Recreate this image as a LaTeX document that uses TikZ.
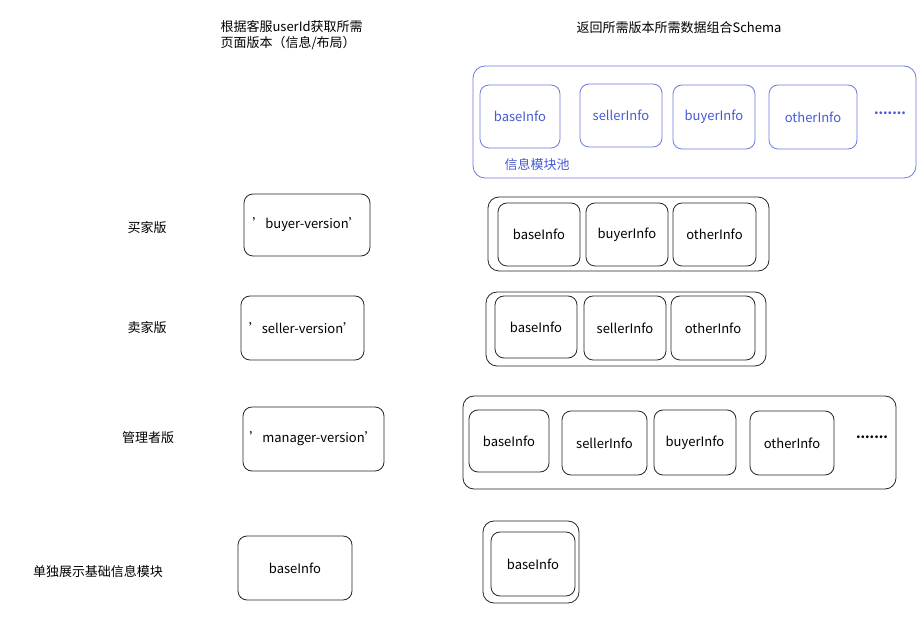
\documentclass[tikz,border=0pt]{standalone}
\usepackage{fontspec}
\setmainfont{Noto Sans CJK SC}
\usepackage{tikz}
\newcommand{\sq}{\char39\relax}
\definecolor{poolblue}{RGB}{70,90,210}

\begin{document}
\begin{tikzpicture}[x=1pt, y=-1pt, font=\fontsize{13}{16}\selectfont,
    box/.style={draw=black!85, rounded corners=9pt, line width=0.8pt, inner sep=0pt},
    bluebox/.style={draw=poolblue!80, text=poolblue, rounded corners=9pt, line width=0.8pt, inner sep=0pt},
    group/.style={draw=black!85, rounded corners=11pt, line width=0.8pt, inner sep=0pt}]
				% Canvas
				\useasboundingbox (0,0) rectangle (924,617);
				
				% Column headings
				\node[anchor=west, align=left] (headL) at (217,35) {根据客服userId获取所需\\页面版本（信息/布局）};
				\node[anchor=west] (headR) at (573,28) {返回所需版本所需数据组合Schema};
				
				% Module pool
				\node[bluebox, minimum width=443pt, minimum height=112pt, rounded corners=12pt] (pool) at (694.5,122) {};
				\node[bluebox, minimum width=80pt, minimum height=63pt] (pBase) at (520,116.5) {baseInfo};
				\node[bluebox, minimum width=82pt, minimum height=63pt] (pSeller) at (621,115.5) {sellerInfo};
				\node[bluebox, minimum width=82pt, minimum height=64pt] (pBuyer) at (714,117) {buyerInfo};
				\node[bluebox, minimum width=88pt, minimum height=64pt] (pOther) at (813,117) {otherInfo};
				\node[text=poolblue] (pDots) at (890,113) {\textbf{.......}};
				\node[text=poolblue] (pLabel) at (537,165) {信息模块池};
				
				% Row labels
				\node (lBuyer) at (147,228) {买家版};
				\node (lSeller) at (147,328) {卖家版};
				\node (lManager) at (148,438) {管理者版};
				\node (lBase) at (98,572) {单独展示基础信息模块};
				
				% Version boxes
				\node[box, minimum width=126pt, minimum height=62pt] (vBuyer) at (307,225) {\sq buyer-version\sq};
				\node[box, minimum width=123pt, minimum height=64pt] (vSeller) at (302.5,328) {\sq seller-version\sq};
				\node[box, minimum width=141pt, minimum height=64pt] (vManager) at (313.5,439) {\sq manager-version\sq};
				\node[box, minimum width=114pt, minimum height=64pt] (vBase) at (295,568) {baseInfo};
				
				% Buyer schema
				\node[group, minimum width=281pt, minimum height=74pt] (gBuyer) at (628.5,234) {};
				\node[box, minimum width=82pt, minimum height=63pt] (bBase) at (539,234.5) {baseInfo};
				\node[box, minimum width=82pt, minimum height=63pt] (bBuyer) at (627,234.5) {buyerInfo};
				\node[box, minimum width=83pt, minimum height=63pt] (bOther) at (714.5,234.5) {otherInfo};
				
				% Seller schema
				\node[group, minimum width=280pt, minimum height=74pt] (gSeller) at (626,329) {};
				\node[box, minimum width=82pt, minimum height=62pt] (sBase) at (536,327) {baseInfo};
				\node[box, minimum width=82pt, minimum height=64pt] (sSeller) at (625,328) {sellerInfo};
				\node[box, minimum width=84pt, minimum height=64pt] (sOther) at (713,328) {otherInfo};
				
				% Manager schema
				\node[group, minimum width=433pt, minimum height=93pt] (gManager) at (679.5,442.5) {};
				\node[box, minimum width=80pt, minimum height=62pt] (mBase) at (509,441) {baseInfo};
				\node[box, minimum width=85pt, minimum height=64pt] (mSeller) at (604.5,443) {sellerInfo};
				\node[box, minimum width=82pt, minimum height=65pt] (mBuyer) at (695,442.5) {buyerInfo};
				\node[box, minimum width=84pt, minimum height=64pt] (mOther) at (792,443) {otherInfo};
				\node (mDots) at (872,437) {\textbf{.......}};
				
				% Base-only schema
				\node[group, minimum width=96pt, minimum height=82pt] (gBase) at (531,562) {};
				\node[box, minimum width=84pt, minimum height=64pt] (oBase) at (533,564) {baseInfo};
\end{tikzpicture}
\end{document}
